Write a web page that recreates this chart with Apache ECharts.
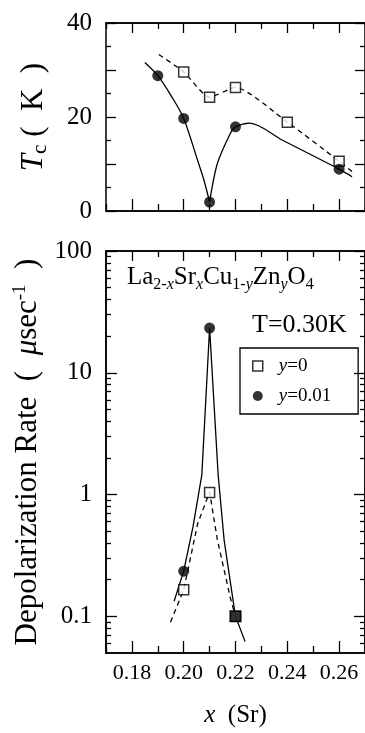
<!DOCTYPE html>
<html>
<head>
<meta charset="utf-8">
<script src="https://cdn.jsdelivr.net/npm/echarts@6/dist/echarts.min.js"></script>
<style>
html, body { margin: 0; padding: 0; background: #fff; }
#main { width: 365px; height: 733px; }
</style>
</head>
<body>
<div id="main"></div>
<script>
// upper panel: Tc (K) vs x
var tcSquareX = [0.20, 0.21, 0.22, 0.24, 0.26];
var tcSquareY = [29.6, 24.2, 26.3, 18.9, 10.6];
var tcCircleX = [0.19, 0.20, 0.21, 0.22, 0.26];
var tcCircleY = [28.8, 19.7, 1.9, 17.9, 8.9];
// guide curves
var tcDashX = [0.1904, 0.20, 0.21, 0.22, 0.24, 0.26, 0.265];
var tcDashY = [33.3, 29.6, 24.2, 26.3, 18.9, 10.6, 8.4];
var tcSolidLeftX = [0.185, 0.19, 0.1954, 0.20, 0.2053, 0.2078, 0.21];
var tcSolidLeftY = [31.6, 28.8, 24.3, 19.7, 10.9, 6.6, 1.9];
var tcSolidRightX = [0.21, 0.213, 0.218, 0.22, 0.2255, 0.238, 0.26, 0.265];
var tcSolidRightY = [1.9, 10.1, 16.5, 17.9, 18.7, 15.1, 8.9, 7.3];

// lower panel: depolarization rate (usec^-1), T=0.30K
var rateSquareX = [0.20, 0.21, 0.22];
var rateSquareY = [0.165, 1.04, 0.1];
var rateCircleX = [0.20, 0.21, 0.22];
var rateCircleY = [0.235, 23.3, 0.1];
var rateDashX = [0.1949, 0.20, 0.2054, 0.21, 0.213, 0.218, 0.22];
var rateDashY = [0.0896, 0.165, 0.578, 1.05, 0.426, 0.142, 0.1];
var rateSolidX = [0.1963, 0.20, 0.2036, 0.207, 0.21, 0.2133, 0.2156, 0.2192, 0.22, 0.2237];
var rateSolidY = [0.133, 0.235, 0.545, 1.45, 23.3, 1.45, 0.425, 0.129, 0.1, 0.062];

// ticks
var xMajorTicks = [0.18, 0.20, 0.22, 0.24, 0.26];
var xMinorTicks = [0.17, 0.19, 0.21, 0.23, 0.25, 0.27];
var logMajorTicks = [0.1, 1, 10, 100];
var logMinorTicks = [0.06, 0.07, 0.08, 0.09, 0.2, 0.3, 0.4, 0.5, 0.6, 0.7, 0.8, 0.9,
    2, 3, 4, 5, 6, 7, 8, 9, 20, 30, 40, 50, 60, 70, 80, 90];

var FONT = 'Liberation Serif';

function zip(xs, ys) {
    return xs.map(function (x, i) { return [x, ys[i]]; });
}

//x轴: 主刻度 / 次刻度
function xAxisOf(grid, pos, ticks, len, withLabel) {
    var ax = {
        type: 'value', gridIndex: grid, position: pos, min: 0.17, max: 0.27,
        axisLine: { show: true, onZero: false, lineStyle: { color: '#000', width: 1.5 } },
        axisTick: { show: true, inside: true, length: len, customValues: ticks,
            lineStyle: { color: '#000', width: 1.3 } },
        axisLabel: { show: false },
        splitLine: { show: false }
    };
    if (withLabel) {
        ax.axisLabel = {
            show: true, customValues: xMajorTicks, margin: 9, color: '#000',
            fontFamily: FONT, fontSize: 22,
            formatter: function (v) { return v.toFixed(2); }
        };
        ax.name = '{i|x}{n|  (Sr)}';
        ax.nameLocation = 'middle';
        ax.nameGap = 50;
        ax.nameTextStyle = {
            color: '#000',
            rich: {
                i: { fontFamily: FONT, fontSize: 25, fontStyle: 'italic', color: '#000' },
                n: { fontFamily: FONT, fontSize: 25, color: '#000' }
            }
        };
    }
    return ax;
}

function logAxisOf(grid, pos, ticks, len, withLabel) {
    var ax = {
        type: 'log', logBase: 10, gridIndex: grid, position: pos, min: 0.05, max: 100,
        axisLine: { show: true, onZero: false, lineStyle: { color: '#000', width: 1.5 } },
        axisTick: { show: true, inside: true, length: len, customValues: ticks,
            lineStyle: { color: '#000', width: 1.3 } },
        axisLabel: { show: false },
        splitLine: { show: false }
    };
    if (withLabel) {
        ax.axisLabel = {
            show: true, customValues: logMajorTicks, margin: 14, color: '#000',
            fontFamily: FONT, fontSize: 25,
            formatter: function (v) {
                return v >= 1 ? String(Math.round(v)) : String(Math.round(v * 10) / 10);
            }
        };
        ax.name = '{n|Depolarization Rate  (  }{i|\u03bc}{n|sec}{sup|-1}{n|  )}';
        ax.nameLocation = 'middle';
        ax.nameGap = 57;
        ax.nameTextStyle = {
            color: '#000',
            rich: {
                n: { fontFamily: FONT, fontSize: 31, color: '#000', lineHeight: 35, verticalAlign: 'middle' },
                i: { fontFamily: FONT, fontSize: 31, fontStyle: 'italic', color: '#000', lineHeight: 35, verticalAlign: 'middle' },
                sup: { fontFamily: FONT, fontSize: 19, color: '#000', lineHeight: 35, verticalAlign: 'top' }
            }
        };
    }
    return ax;
}

function tcAxisOf(pos, withLabel) {
    var ax = {
        type: 'value', gridIndex: 0, position: pos, min: 0, max: 40, interval: 10,
        axisLine: { show: true, onZero: false, lineStyle: { color: '#000', width: 1.5 } },
        axisTick: { show: true, inside: true, length: 10, lineStyle: { color: '#000', width: 1.3 } },
        minorTick: { show: true, splitNumber: 2, length: 5, lineStyle: { color: '#000', width: 1.3 } },
        axisLabel: { show: false },
        splitLine: { show: false }
    };
    if (withLabel) {
        ax.axisLabel = {
            show: true, margin: 14, color: '#000', fontFamily: FONT, fontSize: 25,
            formatter: function (v) { return v % 20 === 0 ? String(v) : ''; }
        };
        ax.name = '{i|T}{s|c}{n| (  K  )}';
        ax.nameLocation = 'middle';
        ax.nameGap = 55;
        ax.nameTextStyle = {
            color: '#000',
            rich: {
                i: { fontFamily: FONT, fontSize: 31, fontStyle: 'italic', color: '#000', lineHeight: 35, verticalAlign: 'middle' },
                s: { fontFamily: FONT, fontSize: 21, color: '#000', lineHeight: 35, verticalAlign: 'bottom' },
                n: { fontFamily: FONT, fontSize: 31, color: '#000', lineHeight: 35, verticalAlign: 'middle' }
            }
        };
    }
    return ax;
}

var rateCircles = zip(rateCircleX, rateCircleY);
rateCircles[2] = { value: rateCircles[2], symbol: 'rect', symbolSize: 12 };

function curve(name, data, xi, yi, dashed, smooth) {
    return {
        name: name, type: 'line', xAxisIndex: xi, yAxisIndex: yi, data: data,
        showSymbol: false, symbol: 'none', smooth: smooth, silent: true, z: 2,
        lineStyle: { color: '#000', width: 1.3, type: dashed ? [5, 4] : 'solid' }
    };
}

var squareStyle = { color: '#fff', borderColor: '#000', borderWidth: 1.5 };
var circleStyle = { color: '#000' };

var chart = echarts.init(document.getElementById('main'));
var option = {
    animation: false,
    backgroundColor: '#fff',
    textStyle: { fontFamily: FONT },
    grid: [
        { left: 106, right: -8, top: 23, height: 188 },
        { left: 106, right: -8, top: 251, height: 412 }
    ],
    xAxis: [
        xAxisOf(0, 'bottom', xMajorTicks, 12, false),
        xAxisOf(0, 'bottom', xMinorTicks, 7, false),
        xAxisOf(0, 'top', xMajorTicks, 10, false),
        xAxisOf(0, 'top', xMinorTicks, 6, false),
        xAxisOf(1, 'bottom', xMajorTicks, 12, true),
        xAxisOf(1, 'bottom', xMinorTicks, 7, false),
        xAxisOf(1, 'top', xMajorTicks, 10, false),
        xAxisOf(1, 'top', xMinorTicks, 6, false)
    ],
    yAxis: [
        tcAxisOf('left', true),
        tcAxisOf('right', false),
        logAxisOf(1, 'left', logMajorTicks, 11, true),
        logAxisOf(1, 'left', logMinorTicks, 5, false),
        logAxisOf(1, 'right', logMajorTicks, 11, false),
        logAxisOf(1, 'right', logMinorTicks, 5, false)
    ],
    legend: {
        left: 240, top: 348, orient: 'vertical',
        padding: [8, 27, 8, 12], itemGap: 10, itemWidth: 10, itemHeight: 10,
        borderColor: '#000', borderWidth: 1.3, borderRadius: 0,
        textStyle: {
            fontFamily: FONT, fontSize: 19, color: '#000', lineHeight: 20,
            rich: {
                i: { fontFamily: FONT, fontSize: 19, fontStyle: 'italic', color: '#000', padding: [0, 0, 0, 11] },
                n: { fontFamily: FONT, fontSize: 19, color: '#000' }
            }
        },
        formatter: function (name) { return '{i|y}{n|' + name.slice(1) + '}'; },
        data: [
            { name: 'y=0', icon: 'rect', itemStyle: squareStyle },
            { name: 'y=0.01', icon: 'circle', itemStyle: circleStyle }
        ]
    },
    graphic: [
        {
            type: 'text', left: 127, top: 265, silent: true,
            style: {
                text: '{n|La}{s|2-}{si|x}{n|Sr}{si|x}{n|Cu}{s|1-}{si|y}{n|Zn}{si|y}{n|O}{s|4}',
                rich: {
                    n: { fontFamily: FONT, fontSize: 25, fill: '#000', lineHeight: 30, verticalAlign: 'middle' },
                    s: { fontFamily: FONT, fontSize: 16, fill: '#000', lineHeight: 30, verticalAlign: 'bottom' },
                    si: { fontFamily: FONT, fontSize: 16, fontStyle: 'italic', fill: '#000', lineHeight: 30, verticalAlign: 'bottom' }
                }
            }
        },
        {
            type: 'text', left: 252, top: 312, silent: true,
            style: { text: 'T=0.30K', fontFamily: FONT, fontSize: 26, fill: '#000' }
        }
    ],
    series: [
        curve('tc dash', zip(tcDashX, tcDashY), 0, 0, true, 0.2),
        curve('tc solid a', zip(tcSolidLeftX, tcSolidLeftY), 0, 0, false, 0.3),
        curve('tc solid b', zip(tcSolidRightX, tcSolidRightY), 0, 0, false, 0.3),
        {
            name: 'Tc y=0', type: 'scatter', xAxisIndex: 0, yAxisIndex: 0, z: 3,
            symbol: 'rect', symbolSize: 10, itemStyle: squareStyle,
            data: zip(tcSquareX, tcSquareY)
        },
        {
            name: 'Tc y=0.01', type: 'scatter', xAxisIndex: 0, yAxisIndex: 0, z: 4,
            symbol: 'circle', symbolSize: 11, itemStyle: circleStyle,
            data: zip(tcCircleX, tcCircleY)
        },
        curve('rate dash', zip(rateDashX, rateDashY), 4, 2, true, false),
        curve('rate solid', zip(rateSolidX, rateSolidY), 4, 2, false, false),
        {
            name: 'y=0', type: 'scatter', xAxisIndex: 4, yAxisIndex: 2, z: 3,
            symbol: 'rect', symbolSize: 10, itemStyle: squareStyle,
            data: zip(rateSquareX, rateSquareY)
        },
        {
            name: 'y=0.01', type: 'scatter', xAxisIndex: 4, yAxisIndex: 2, z: 4,
            symbol: 'circle', symbolSize: 11, itemStyle: circleStyle,
            data: rateCircles
        }
    ]
};
chart.setOption(option);
</script>
</body>
</html>
